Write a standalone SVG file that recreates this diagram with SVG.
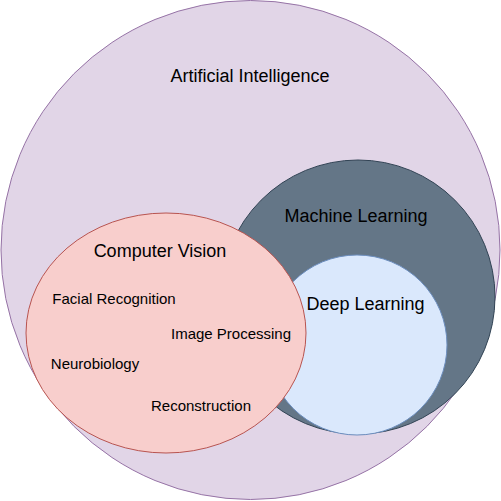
<svg xmlns="http://www.w3.org/2000/svg" width="501" height="501" viewBox="0 0 501 501">
  <style>
    text { font-family: "Liberation Sans", Arial, Helvetica, sans-serif; fill: #000; text-anchor: middle; }
    .big { font-size: 18px; }
    .small { font-size: 15px; }
  </style>
  <rect width="501" height="501" fill="#ffffff"/>
  <!-- Venn-style regions -->
  <g id="ai">
    <circle cx="250.5" cy="250" r="249.5" fill="#e1d5e7" stroke="#9673a6" stroke-width="1"/>
    <text class="big" x="250" y="82">Artificial Intelligence</text>
  </g>
  <g id="ml">
    <circle cx="358" cy="297" r="137" fill="#647687" stroke="#314354" stroke-width="1"/>
    <text class="big" x="356" y="222">Machine Learning</text>
  </g>
  <g id="dl">
    <circle cx="357" cy="345" r="90" fill="#dae8fc" stroke="#6c8ebf" stroke-width="1"/>
    <text class="big" x="365.5" y="310">Deep Learning</text>
  </g>
  <g id="cv">
    <ellipse cx="166" cy="333" rx="140" ry="120" fill="#f8cecc" stroke="#b85450" stroke-width="1"/>
    <text class="big" x="160" y="257">Computer Vision</text>
    <text class="small" x="114" y="304">Facial Recognition</text>
    <text class="small" x="231" y="339">Image Processing</text>
    <text class="small" x="95" y="369">Neurobiology</text>
    <text class="small" x="201" y="411">Reconstruction</text>
  </g>
  <g id="connectors"></g>
</svg>
